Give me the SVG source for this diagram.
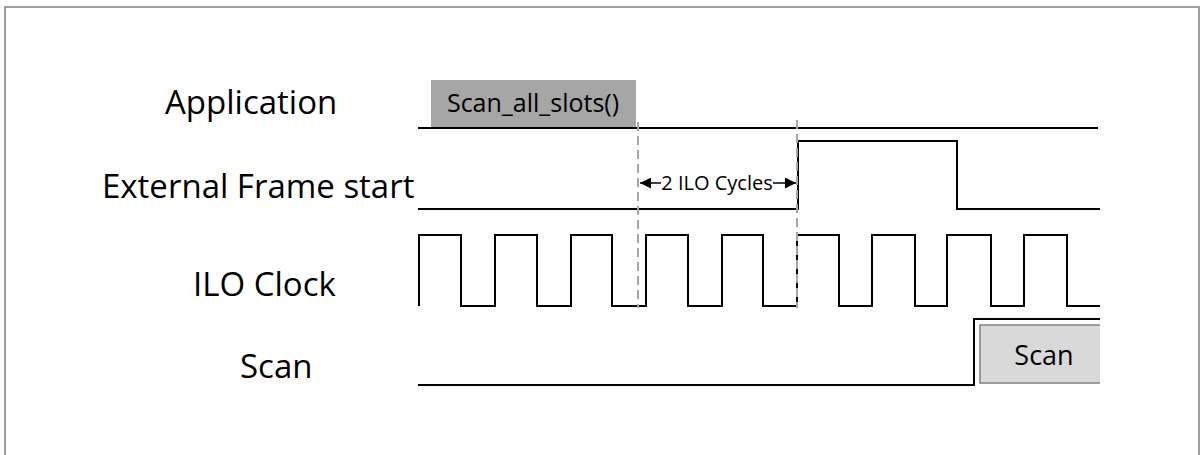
<svg xmlns="http://www.w3.org/2000/svg" width="1203" height="455" viewBox="0 0 1203 455">
<defs>
<style>
.lbl{font-family:"Open Sans","Noto Sans",sans-serif;font-size:33px;fill:#000}
.sig{fill:none;stroke:#000;stroke-width:2}
.dash{fill:none;stroke:#a6a6a6;stroke-width:2;stroke-dasharray:9,5}
.box{font-family:"Open Sans","Noto Sans",sans-serif;fill:#000}
</style>
<marker id="ah" viewBox="0 0 10 10" refX="10" refY="5" markerWidth="11" markerHeight="11" markerUnits="userSpaceOnUse" orient="auto">
<path d="M0,0 L10,5 L0,10 Z" fill="#000"/>
</marker>
</defs>
<rect x="0" y="0" width="1203" height="455" fill="#fff"/>
<rect x="5" y="7" width="1194" height="460" fill="none" stroke="#7f7f7f" stroke-width="1.5"/>

<g id="label-application"><text class="lbl" x="165" y="114">Application</text></g>
<g id="label-external"><text class="lbl" x="102" y="198">External Frame start</text></g>
<g id="label-ilo"><text class="lbl" x="193" y="296">ILO Clock</text></g>
<g id="label-scan"><text class="lbl" x="240" y="378">Scan</text></g>

<g id="scan-all-slots">
<rect x="431" y="80" width="205" height="48" fill="#a6a6a6"/>
<text class="box" x="533" y="112" font-size="25" text-anchor="middle">Scan_all_slots()</text>
</g>

<g id="scan-box">
<rect x="980" y="325" width="120" height="58" fill="#d9d9d9"/>
<path d="M1100,325 H980 V383 H1100" fill="none" stroke="#808080" stroke-width="1.5"/>
<text class="box" x="1044" y="365" font-size="27" text-anchor="middle">Scan</text>
</g>

<g id="connectors">
<path class="sig" d="M418,128 H1098"/>
<path class="sig" d="M418,209 H798 V141 H957 V209 H1100"/>
<path class="sig" d="M419,306 V235 H461 V306 H495 V235 H537 V306 H571 V235 H612 V306 H646 V235 H688 V306 H722 V235 H763 V306 H797 V235 H839 V306 H872 V235 H915 V306 H947 V235 H991 V306 H1024 V235 H1067 V306 H1100"/>
<path class="sig" d="M418,385 H974 V319 H1100"/>
<path class="dash" d="M638,122 V308"/>
<path class="dash" d="M797,120 V308"/>
<path d="M661,183 H640" stroke="#000" stroke-width="1.5" marker-end="url(#ah)"/>
<path d="M773,183 H796" stroke="#000" stroke-width="1.5" marker-end="url(#ah)"/>
<text class="box" x="717" y="190" font-size="20" text-anchor="middle">2 ILO Cycles</text>
</g>
</svg>
